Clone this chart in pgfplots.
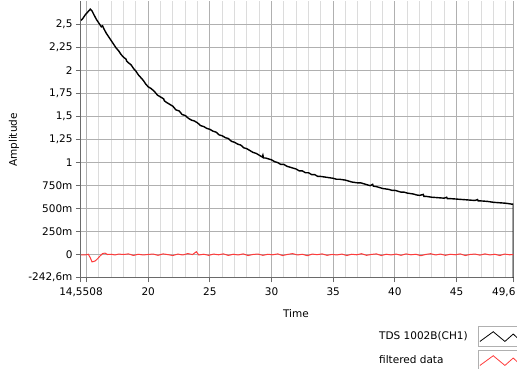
\documentclass[border=0pt]{standalone}
\usepackage{fontspec}
\setmainfont{DejaVu Sans}
\usepackage{pgfplots}
\pgfplotsset{compat=1.18}
\definecolor{majgrid}{HTML}{B0B0B0}
\definecolor{mingrid}{HTML}{DCDCDC}
\definecolor{axgray}{HTML}{6A6A6A}
\definecolor{redtrace}{HTML}{FF3B3B}
\begin{document}
\begin{tikzpicture}[x=1pt,y=1pt]
\path[use as bounding box] (0,0) rectangle (517,369);
\begin{axis}[
  at={(81pt,91.6pt)}, anchor=south west,
  scale only axis, width=432.3pt, height=276.4pt,
  xmin=14.5508, xmax=49.6, ymin=-0.2426, ymax=2.749,
  axis lines*=left,
  axis line style={draw=axgray, line width=1pt, -},
  tick align=outside,
  major tick length=5pt, minor tick length=0pt,
  every tick/.style={axgray, line width=1pt},
  xtick={14.5508,15,20,25,30,35,40,45},
  xticklabels={{14,5508},{},20,25,30,35,40,45},
  extra x ticks={49.6},
  extra x tick labels={49{,}6},
  extra x tick style={tick label style={xshift=-9.5pt}},
  minor xtick={16,17,18,19,21,22,23,24,26,27,28,29,31,32,33,34,36,37,38,39,41,42,43,44,46,47,48,49},
  ytick={-0.2426,0,0.25,0.5,0.75,1,1.25,1.5,1.75,2,2.25,2.5},
  yticklabels={{-242,6m},0,250m,500m,750m,1,{1,25},{1,5},{1,75},2,{2,25},{2,5}},
  grid=both,
  major grid style={majgrid, line width=1pt},
  minor grid style={mingrid, line width=1pt},
  tick label style={font=\fontsize{10.5}{12.6}\selectfont, text=black},
  xticklabel style={yshift=-2pt},
  label style={font=\fontsize{10.5}{12.6}\selectfont},
  xlabel={Time},
  ylabel={Amplitude},
  xlabel style={at={(axis description cs:0.497,-0.104)}, anchor=north},
  ylabel style={at={(axis description cs:-0.155,0.497)}, anchor=center},
  legend plot pos=right,
  legend cell align=left,
  legend style={at={(axis description cs:0.6847,-0.176)}, anchor=north west,
    draw=none, fill=none, inner sep=0pt, row sep=3pt, column sep=8pt,
    font=\fontsize{10.5}{12.6}\selectfont},
  legend image code/.code={
    \draw[draw=majgrid, fill=white, solid, line width=1pt] (0pt,-10pt) rectangle (40pt,10pt);
    \draw[#1, line width=0.8pt] (1.7pt,-4.7pt) -- (15pt,5pt) -- (26.7pt,-4.7pt) -- (35pt,2.7pt) -- (39pt,-1pt);
  },
]
\addplot[black, line width=1.4pt] coordinates {
(14.5508,2.54) (14.7,2.56) (14.9,2.60) (15.1,2.63) (15.3,2.66) (15.45,2.64) (15.6,2.60) (15.8,2.55)
(16.0,2.51) (16.2,2.47) (16.3,2.48) (16.4,2.45) (16.6,2.40) (16.8,2.36) (17.0,2.32) (17.2,2.28) (17.4,2.24)
(17.6,2.21) (17.8,2.17) (18.0,2.14) (18.2,2.12) (18.25,2.10) (18.4,2.08) (18.6,2.06) (18.8,2.02) (19.0,1.99)
(19.2,1.95) (19.4,1.92) (19.6,1.89) (19.8,1.85) (20.0,1.82) (20.25,1.80) (20.5,1.77) (20.75,1.73)
(21.0,1.71) (21.25,1.69) (21.3,1.67) (21.5,1.65) (21.75,1.63) (22.0,1.61) (22.25,1.57) (22.5,1.56) (22.75,1.52)
(23.0,1.51) (23.25,1.48) (23.5,1.46) (23.75,1.45) (24.0,1.43) (24.25,1.40) (24.5,1.39) (24.75,1.37)
(25.0,1.36) (25.25,1.34) (25.5,1.33) (25.75,1.30) (26.0,1.29) (26.25,1.27) (26.5,1.26) (26.75,1.23)
(27.0,1.22) (27.25,1.20) (27.5,1.19) (27.75,1.16) (28.0,1.15) (28.25,1.13) (28.5,1.11) (28.75,1.10)
(29.0,1.08) (29.25,1.06) (29.3,1.08) (29.35,1.05) (29.5,1.05) (29.75,1.04) (30.0,1.03) (30.25,1.01) (30.5,1.00) (30.75,0.98)
(31.0,0.98) (31.25,0.96) (31.5,0.95) (31.75,0.94) (32.0,0.93) (32.25,0.91) (32.5,0.91) (32.75,0.89)
(33.0,0.89) (33.25,0.87) (33.5,0.87) (33.75,0.85) (34.0,0.85) (34.5,0.84) (35.0,0.83) (35.25,0.82)
(35.5,0.82) (36.0,0.81) (36.25,0.80) (36.5,0.79) (37.0,0.78) (37.25,0.78) (37.5,0.77) (37.75,0.76)
(38.0,0.75) (38.2,0.765) (38.25,0.745) (38.5,0.74) (38.75,0.73) (39.0,0.72) (39.5,0.71) (39.75,0.70)
(40.0,0.70) (40.5,0.68) (40.75,0.68) (41.0,0.67) (41.5,0.66) (41.75,0.65) (42.0,0.645) (42.3,0.655)
(42.35,0.635) (42.5,0.635) (42.75,0.63) (43.0,0.625) (43.5,0.62) (44.0,0.615) (44.2,0.625) (44.25,0.61)
(44.5,0.61) (45.0,0.605) (45.5,0.60) (46.0,0.595) (46.5,0.59) (46.7,0.60) (46.75,0.585) (47.0,0.585)
(47.5,0.58) (48.0,0.57) (48.5,0.565) (49.0,0.56) (49.5,0.55) (49.6,0.55) (49.6,-0.5)
};
\addlegendentry{TDS 1002B(CH1)}
\addplot[redtrace, line width=1pt] coordinates {
(14.5508,0.0) (14.8,0.0) (15.0,0.003) (15.15,0.008) (15.3,-0.03) (15.45,-0.075) (15.7,-0.065)
(15.9,-0.04) (16.1,-0.01) (16.3,0.015) (16.5,0.02) (16.7,0.005) (17.0,0.008) (17.3,0.0)
(17.6,0.01) (18.0,0.005) (18.4,0.012) (18.8,-0.005) (19.2,0.008) (19.6,0.0) (20.0,0.006)
(20.4,0.01) (20.8,-0.004) (21.2,0.012) (21.6,0.004) (22.0,-0.006) (22.4,0.01) (22.8,0.0)
(23.2,0.015) (23.6,0.005) (23.9,0.035) (24.1,0.0) (24.5,0.008) (24.9,-0.004) (25.3,0.01)
(25.7,0.002) (26.1,0.012) (26.5,-0.005) (26.9,0.008) (27.3,0.0) (27.7,0.012) (28.1,-0.006)
(28.5,0.006) (28.9,0.01) (29.3,-0.004) (29.7,0.008) (30.1,0.002) (30.5,0.012) (30.9,-0.006)
(31.3,0.006) (31.7,0.015) (32.1,0.0) (32.5,0.008) (32.9,-0.008) (33.3,0.01) (33.7,0.003)
(34.1,0.012) (34.5,-0.004) (34.9,0.006) (35.3,0.0) (35.7,0.01) (36.1,-0.006) (36.5,0.008)
(36.9,0.002) (37.3,0.014) (37.7,-0.004) (38.1,0.006) (38.5,0.012) (38.9,-0.006) (39.3,0.008)
(39.7,0.0) (40.1,0.01) (40.5,-0.004) (40.9,0.012) (41.3,0.002) (41.7,0.008) (42.1,-0.008)
(42.5,0.006) (42.9,0.014) (43.3,0.0) (43.7,0.01) (44.1,-0.004) (44.5,0.008) (44.9,0.002)
(45.3,0.012) (45.7,-0.006) (46.1,0.006) (46.5,0.01) (46.9,-0.002) (47.3,0.012) (47.7,0.0)
(48.1,0.008) (48.5,-0.006) (48.9,0.01) (49.3,0.002) (49.6,0.005)
};
\addlegendentry{filtered data}
\end{axis}
\end{tikzpicture}
\end{document}
